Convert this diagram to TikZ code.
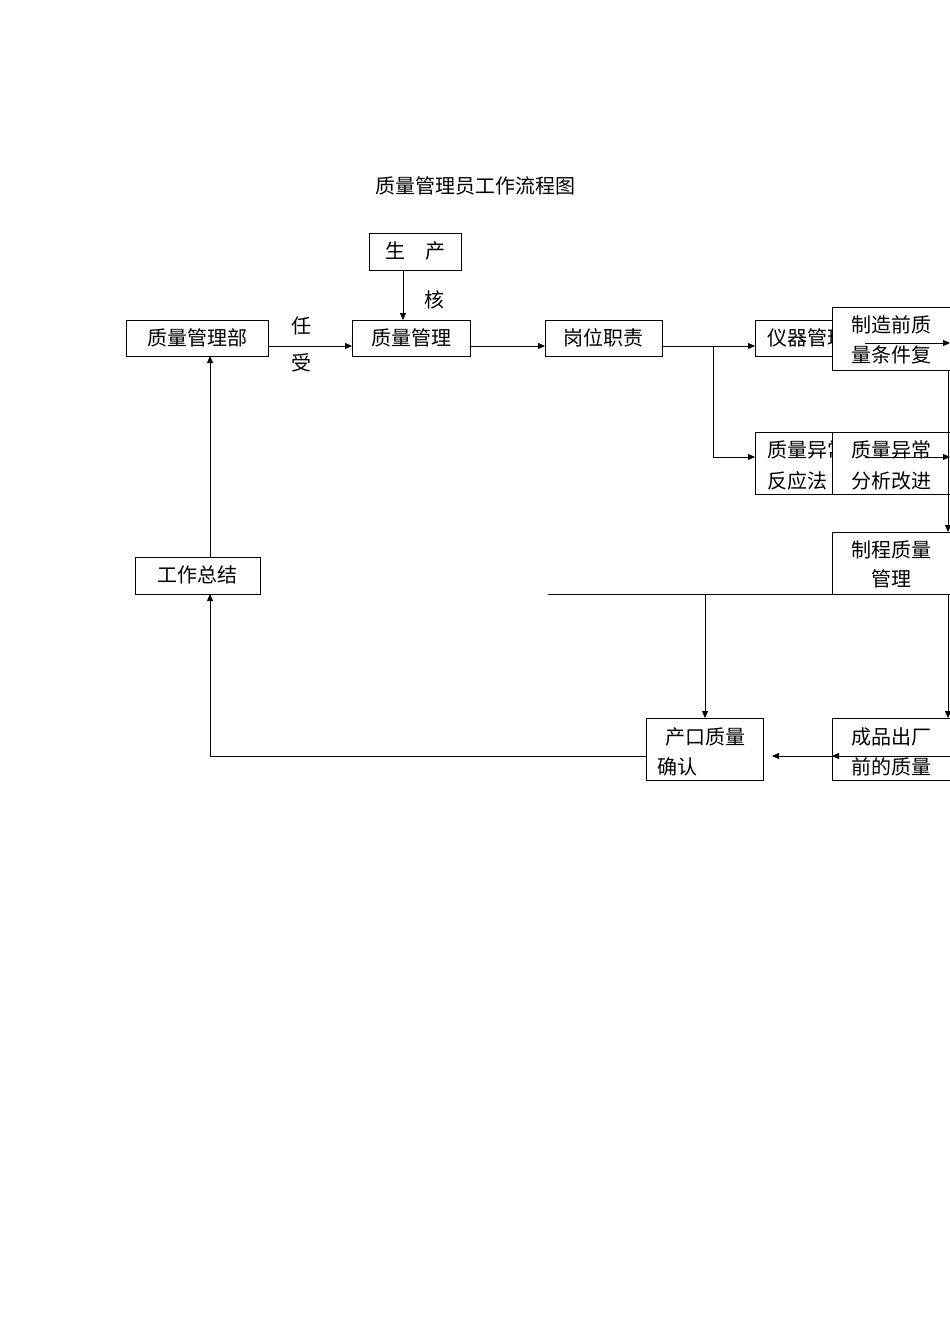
\documentclass[tikz,border=0pt]{standalone}
\usepackage{fontspec}
\setmainfont{Noto Sans CJK SC}
\usetikzlibrary{arrows.meta}
\begin{document}
\begin{tikzpicture}[x=1pt,y=-1pt,
  bx/.style={draw,fill=white,line width=0.8pt},
  tx/.style={font=\fontsize{20}{24}\selectfont,inner sep=0},
  ln/.style={line width=0.8pt},
  ar/.style={ln,-{Triangle[length=7pt,width=6pt]}}]
\useasboundingbox (0,0) rectangle (950,1344);
\node[tx] (title) at (475,186) {质量管理员工作流程图};
% boxes
\draw[bx] (369,233) rectangle (461,270); \node[tx] (sc) at (415,251) {生\quad 产};
\coordinate (scb) at (403,270);
\draw[bx] (126,320) rectangle (268,356); \node[tx] (bu) at (197,338) {质量管理部};
\draw[bx] (352,320) rectangle (470,356); \node[tx] (zl) at (411,338) {质量管理};
\draw[bx] (545,320) rectangle (662,356); \node[tx] (gw) at (603,338) {岗位职责};
\draw[bx] (755,320) rectangle (860,356); \node[tx,anchor=west] (yq) at (767,338) {仪器管理};
\draw[bx] (755,432) rectangle (860,494);
\node[tx,anchor=west] (yc1) at (767,450) {质量异常};
\node[tx,anchor=west] (yc2) at (767,481) {反应法};
\draw[bx] (832,307) rectangle (950,370);
\node[tx] (zz1) at (891,325) {制造前质};
\node[tx] (zz2) at (891,355) {量条件复};
\draw[bx] (832,432) rectangle (950,494);
\node[tx] (fx1) at (891,450) {质量异常};
\node[tx] (fx2) at (891,481) {分析改进};
\draw[bx] (832,532) rectangle (950,594);
\node[tx] (zc1) at (891,550) {制程质量};
\node[tx] (zc2) at (891,579) {管理};
\draw[bx] (135,557) rectangle (260,594); \node[tx] (zj) at (197,575) {工作总结};
\draw[bx] (646,718) rectangle (763,780);
\node[tx] (ck1) at (705,737) {产口质量};
\node[tx,anchor=west] (ck2) at (657,767) {确认};
\draw[bx] (832,718) rectangle (950,780);
\node[tx] (cp1) at (891,737) {成品出厂};
\node[tx] (cp2) at (891,767) {前的质量};
% labels
\node[tx] (l1) at (301,326) {任};
\node[tx] (l2) at (301,363) {受};
\node[tx] (l3) at (434,300) {核};
% connectors
\draw[ar] (403,270) -- (403,320);
\draw[ar] (268,346) -- (352,346);
\draw[ar] (470,346) -- (545,346);
\draw[ar] (662,346) -- (755,346);
\draw[ar] (713,346) |- (755,457);
\draw[ar] (865,343) -- (950,343);
\draw[ar] (865,457) -- (950,457);
\draw[ar] (948,370) -- (948,532);
\draw[ar] (948,594) -- (948,718);
\draw[ln] (548,594) -- (832,594);
\draw[ar] (705,594) -- (705,718);
\draw[ar] (950,756) -- (832,756);
\draw[ar] (832,756) -- (772,756);
\draw[ar] (646,756) -| (210,594);
\draw[ar] (210,557) -- (210,356);
\end{tikzpicture}
\end{document}
